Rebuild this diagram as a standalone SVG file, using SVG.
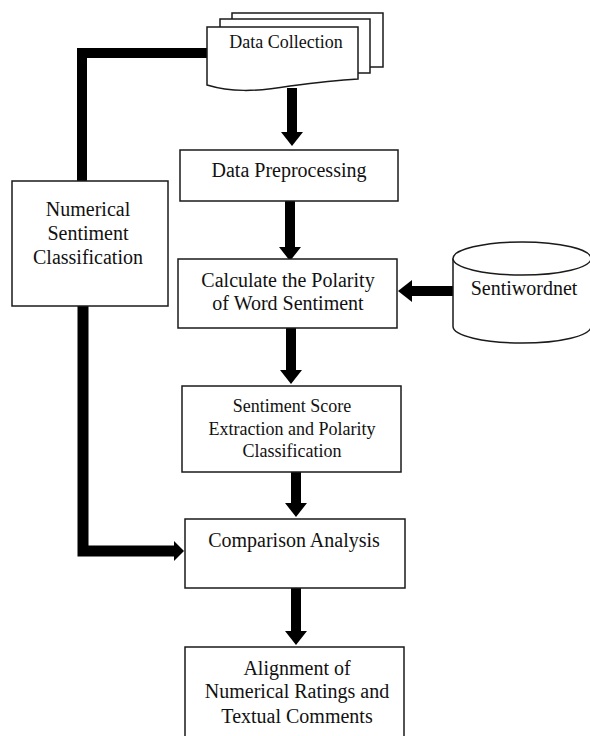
<svg xmlns="http://www.w3.org/2000/svg" width="590" height="736" viewBox="0 0 590 736">
<defs>
<style>
.box{fill:#fff;stroke:#1a1a1a;stroke-width:1.5}
.t{font-family:"Liberation Serif","Times New Roman",serif;font-size:20px;fill:#111;text-anchor:middle}
.s18{font-size:18px}
.c{fill:none;stroke:#000;stroke-width:10}
.ca{fill:none;stroke:#000;stroke-width:10;marker-end:url(#ah)}
</style>
<marker id="ah" markerUnits="userSpaceOnUse" markerWidth="14" markerHeight="22" viewBox="0 0 14 22" refX="0" refY="11" orient="auto">
<path d="M0,0 L14,11 L0,22 Z" fill="#000"/>
</marker>
<marker id="ahs" markerUnits="userSpaceOnUse" markerWidth="10" markerHeight="20" viewBox="0 0 10 20" refX="0" refY="10" orient="auto">
<path d="M0,0 L10,10 L0,20 Z" fill="#000"/>
</marker>
</defs>
<rect width="590" height="736" fill="#fff"/>

<g id="connectors">
<path class="ca" d="M292,88 V132"/>
<path class="ca" d="M290,201 V247"/>
<path class="ca" d="M453,291 H412"/>
<path class="ca" d="M291,328 V370"/>
<path class="ca" d="M296,472 V503"/>
<path class="ca" d="M296,588 V631"/>
<path class="c" d="M207,53 H82 V181"/>
<path d="M83,306 V551 H174" fill="none" stroke="#000" stroke-width="11" marker-end="url(#ahs)"/>
</g>

<g id="data-collection">
<path class="box" d="M232,13 H383 V67 H232 Z"/>
<path class="box" d="M220,19 H370 V73 H220 Z"/>
<path class="box" d="M207,27 H358 V79 C340,80 320,82 290,86 C255,92 230,92 207,85 Z"/>
<text class="t s18" x="286" y="48">Data Collection</text>
</g>

<g id="data-preprocessing">
<rect class="box" x="180" y="150" width="218" height="51"/>
<text class="t" x="289" y="177">Data Preprocessing</text>
</g>

<g id="calculate-polarity">
<rect class="box" x="178" y="259" width="219" height="69"/>
<text class="t" x="288" y="287">Calculate the Polarity</text>
<text class="t" x="288" y="310">of Word Sentiment</text>
</g>

<g id="sentiwordnet">
<path class="box" d="M453,258.5 V326.5 A69,16.5 0 0 0 591,326.5 V258.5"/>
<ellipse class="box" cx="522" cy="258.5" rx="69" ry="16.5"/>
<text class="t" x="524" y="295">Sentiwordnet</text>
</g>

<g id="numerical-sentiment">
<rect class="box" x="12" y="181" width="156" height="125"/>
<text class="t" x="88" y="216">Numerical</text>
<text class="t" x="88" y="240">Sentiment</text>
<text class="t" x="88" y="264">Classification</text>
</g>

<g id="sentiment-score">
<rect class="box" x="182" y="386" width="219" height="86"/>
<text class="t s18" x="292" y="412">Sentiment Score</text>
<text class="t s18" x="292" y="435">Extraction and Polarity</text>
<text class="t s18" x="292" y="457">Classification</text>
</g>

<g id="comparison-analysis">
<rect class="box" x="185" y="519" width="220" height="69"/>
<text class="t" x="294" y="547">Comparison Analysis</text>
</g>

<g id="alignment">
<rect class="box" x="185" y="647" width="219" height="95"/>
<text class="t" x="297" y="675">Alignment of</text>
<text class="t" x="297" y="698">Numerical Ratings and</text>
<text class="t" x="297" y="723">Textual Comments</text>
</g>
</svg>
